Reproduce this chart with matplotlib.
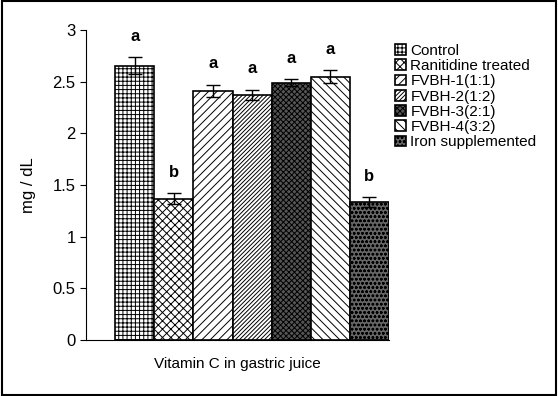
import numpy as np
import matplotlib.pyplot as plt
from matplotlib.patches import Rectangle

plt.rcParams['font.family'] = ['Liberation Sans', 'DejaVu Sans']
plt.rcParams['hatch.linewidth'] = 0.7

groups = ["Control", "Ranitidine treated", "FVBH-1(1:1)", "FVBH-2(1:2)",
          "FVBH-3(2:1)", "FVBH-4(3:2)", "Iron supplemented"]
means = [2.655, 1.37, 2.41, 2.375, 2.49, 2.55, 1.335]
errors = [0.08, 0.05, 0.06, 0.05, 0.035, 0.06, 0.05]
letters = ["a", "b", "a", "a", "a", "a", "b"]

hatches = ["++++", "xxxx", "////", "////////", "xxxxxx", "\\\\\\\\", "oooo"]
faces = ["white", "white", "white", "white", "#555555", "white", "#666666"]

fig = plt.figure(figsize=(5.58, 3.96), dpi=100)
ax = fig.add_axes([0.154, 0.141, 0.543, 0.783])

x = np.arange(len(groups))
for i in range(len(groups)):
    ax.bar(x[i], means[i], width=1.0, color=faces[i], edgecolor="black",
           hatch=hatches[i], linewidth=1.2, label=groups[i])
    ax.errorbar(x[i], means[i], yerr=errors[i], color="black",
                capsize=5, linewidth=1.0, capthick=1.0)
    ax.text(x[i], means[i] + errors[i] + 0.13, letters[i], ha="center",
            va="bottom", fontsize=12, fontweight="bold")

ax.set_xlim(-1.25, 6.5)
ax.set_ylim(0, 3)
ax.set_yticks([0, 0.5, 1, 1.5, 2, 2.5, 3])
ax.set_yticklabels(["0", "0.5", "1", "1.5", "2", "2.5", "3"], fontsize=12)
ax.set_xticks([])
ax.spines["top"].set_visible(False)
ax.spines["right"].set_visible(False)
ax.tick_params(axis="y", direction="out", length=4)
ax.set_ylabel("mg / dL", fontsize=12, labelpad=12)
ax.set_xlabel("Vitamin C in gastric juice", fontsize=11, labelpad=12)

ax.legend(loc="upper left", bbox_to_anchor=(1.0, 0.975), frameon=False,
          fontsize=11, handlelength=0.7, handleheight=0.7, handletextpad=0.3,
          labelspacing=0.08, borderaxespad=0.0)

fig.patches.append(Rectangle((0.003, 0.003), 0.994, 0.994, transform=fig.transFigure,
                             fill=False, edgecolor="black", linewidth=1.5))

fig.savefig("out.png", dpi=100)
